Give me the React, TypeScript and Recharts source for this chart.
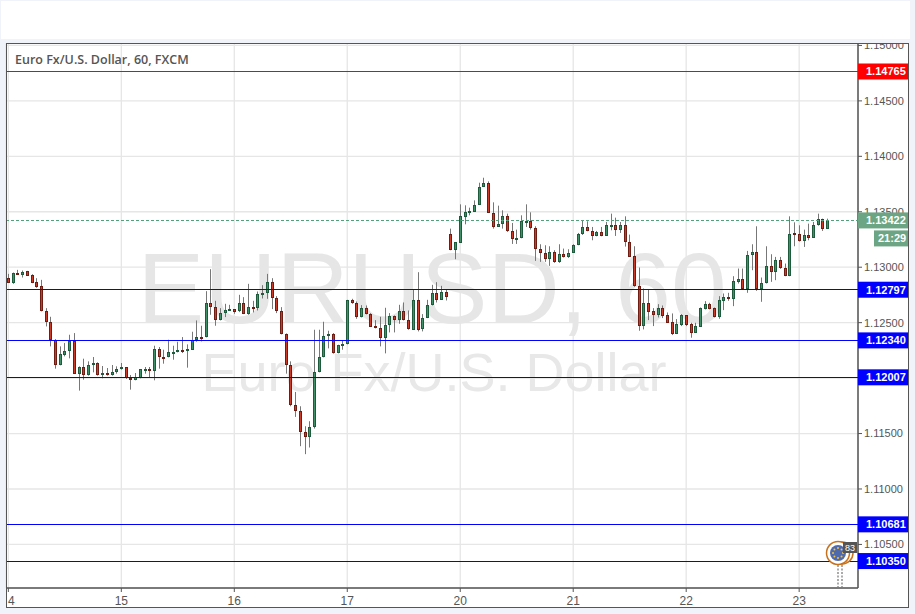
import { Bar, CartesianGrid, ComposedChart, ReferenceLine, XAxis, YAxis } from "recharts";

// hourly slots, 24 per day, the last few are empty space right of the last candle
const SLOT_COUNT = 181;
const dayTicks = [0, 24, 48, 72, 96, 120, 144, 168];
const dayLabels = ["4", "15", "16", "17", "20", "21", "22", "23"];
const priceTicks = [1.105, 1.11, 1.115, 1.12, 1.125, 1.13, 1.135, 1.14, 1.145, 1.15];
const priceDomain = [1.10107, 1.15022];

const opens = [
  1.12901, 1.12862, 1.12949, 1.12931, 1.12964, 1.12928, 1.12865, 1.12829, 1.12604, 1.12505,
  1.12346, 1.12115, 1.12211, 1.12241, 1.12337, 1.1204, 1.121, 1.12031, 1.12115, 1.12136,
  1.12034, 1.12046, 1.12025, 1.12052, 1.12079, 1.121, 1.12004, 1.1198, 1.12004, 1.12079,
  1.12082, 1.12061, 1.12265, 1.1219, 1.12187, 1.12232, 1.12232, 1.12256, 1.1225, 1.12256,
  1.1234, 1.1237, 1.12367, 1.12676, 1.1264, 1.1252, 1.12583, 1.12607, 1.12622, 1.12601,
  1.12676, 1.12577, 1.1264, 1.12628, 1.12754, 1.12766, 1.12865, 1.12721, 1.12604, 1.12397,
  1.12118, 1.11758, 1.11704, 1.11515, 1.11467, 1.11557, 1.12052, 1.12187, 1.12376, 1.12397,
  1.12223, 1.12295, 1.12304, 1.12703, 1.12676, 1.12547, 1.12631, 1.1258, 1.12469, 1.12451,
  1.12358, 1.12475, 1.12559, 1.1252, 1.12604, 1.12523, 1.12436, 1.12703, 1.12439, 1.12541,
  1.12655, 1.12766, 1.12706, 1.12775, 1.13303, 1.13156, 1.13219, 1.13453, 1.13498, 1.13498,
  1.13561, 1.13723, 1.13762, 1.13492, 1.13363, 1.1339, 1.13465, 1.1333, 1.13255, 1.13261,
  1.13408, 1.13417, 1.13357, 1.13168, 1.13132, 1.13075, 1.13141, 1.13048, 1.13123, 1.13093,
  1.13129, 1.13204, 1.133, 1.13366, 1.1333, 1.13282, 1.13321, 1.13282, 1.13381, 1.13384,
  1.13336, 1.13384, 1.13231, 1.13099, 1.12835, 1.12469, 1.12673, 1.12601, 1.12571, 1.12631,
  1.12565, 1.12502, 1.12397, 1.12478, 1.12565, 1.12484, 1.12409, 1.12463, 1.12625, 1.12667,
  1.12628, 1.12553, 1.12697, 1.12727, 1.12715, 1.12868, 1.12898, 1.12802, 1.13111, 1.13141,
  1.12802, 1.12859, 1.13015, 1.12958, 1.13069, 1.12997, 1.12919, 1.13306, 1.13303, 1.13237,
  1.13294, 1.13264, 1.13381, 1.13438, 1.13345,
];

const highs = [
  1.1294, 1.12952, 1.12976, 1.1297, 1.12967, 1.12937, 1.12901, 1.12886, 1.12631, 1.12553,
  1.12352, 1.12286, 1.12316, 1.12391, 1.12406, 1.12106, 1.12175, 1.12151, 1.1219, 1.12142,
  1.12109, 1.12091, 1.12118, 1.12106, 1.12136, 1.121, 1.12028, 1.12046, 1.12082, 1.121,
  1.121, 1.12292, 1.1228, 1.12256, 1.12346, 1.12292, 1.12328, 1.1237, 1.12304, 1.12418,
  1.1252, 1.12472, 1.12784, 1.12982, 1.12697, 1.12631, 1.1267, 1.12661, 1.12622, 1.12751,
  1.1273, 1.1285, 1.12697, 1.12781, 1.12838, 1.1294, 1.12901, 1.12739, 1.1264, 1.12403,
  1.12151, 1.11875, 1.11746, 1.11566, 1.11611, 1.12436, 1.12436, 1.12508, 1.12427, 1.12406,
  1.12301, 1.1234, 1.12706, 1.12715, 1.12691, 1.12658, 1.12655, 1.12586, 1.12523, 1.12553,
  1.12634, 1.12586, 1.12565, 1.12661, 1.12682, 1.1261, 1.12802, 1.12955, 1.12577, 1.12706,
  1.12841, 1.12865, 1.12832, 1.12796, 1.13348, 1.13225, 1.13567, 1.13558, 1.13537, 1.13603,
  1.13762, 1.13807, 1.13774, 1.13585, 1.13555, 1.13513, 1.13483, 1.13399, 1.13339, 1.13468,
  1.13567, 1.13495, 1.13369, 1.13207, 1.13198, 1.13189, 1.13153, 1.13207, 1.13168, 1.13162,
  1.13207, 1.13309, 1.13423, 1.13414, 1.13363, 1.13327, 1.13363, 1.13408, 1.13483, 1.13447,
  1.13408, 1.13459, 1.13294, 1.13189, 1.12997, 1.12808, 1.12799, 1.12631, 1.12667, 1.12655,
  1.12592, 1.12583, 1.12532, 1.12577, 1.12568, 1.12499, 1.12499, 1.12637, 1.12694, 1.12679,
  1.12637, 1.12739, 1.12763, 1.12769, 1.12919, 1.12988, 1.12988, 1.13147, 1.13207, 1.13369,
  1.12907, 1.13189, 1.13117, 1.13093, 1.13093, 1.13033, 1.13459, 1.13405, 1.13378, 1.13339,
  1.13393, 1.13408, 1.13483, 1.13438, 1.13438,
];

const lows = [
  1.12862, 1.1285, 1.12934, 1.12907, 1.12922, 1.12856, 1.12814, 1.12601, 1.12466, 1.12286,
  1.12085, 1.12115, 1.12196, 1.12178, 1.12037, 1.11887, 1.11986, 1.12022, 1.12052, 1.12022,
  1.11998, 1.12022, 1.12022, 1.1204, 1.12076, 1.11992, 1.11896, 1.1198, 1.11998, 1.1204,
  1.12004, 1.1198, 1.12085, 1.1213, 1.12187, 1.12166, 1.12232, 1.12226, 1.12094, 1.12256,
  1.12328, 1.12331, 1.12367, 1.12571, 1.12472, 1.1252, 1.1255, 1.12607, 1.1258, 1.12595,
  1.12577, 1.12571, 1.12592, 1.1261, 1.12718, 1.12715, 1.12622, 1.12586, 1.12394, 1.1204,
  1.11746, 1.1165, 1.11386, 1.11314, 1.11374, 1.11545, 1.12052, 1.12187, 1.12268, 1.1222,
  1.12223, 1.12256, 1.12304, 1.1267, 1.12535, 1.12547, 1.12574, 1.12463, 1.12448, 1.12286,
  1.12223, 1.12412, 1.12412, 1.1249, 1.1252, 1.12436, 1.12436, 1.12421, 1.12421, 1.12541,
  1.12655, 1.12682, 1.12706, 1.127, 1.13153, 1.13072, 1.13219, 1.13387, 1.13468, 1.13498,
  1.13561, 1.13723, 1.13492, 1.13348, 1.13363, 1.13348, 1.13318, 1.1321, 1.1321, 1.13261,
  1.13363, 1.13339, 1.13057, 1.13048, 1.13048, 1.13012, 1.13039, 1.13039, 1.13087, 1.13084,
  1.13129, 1.13198, 1.13291, 1.13324, 1.13243, 1.13279, 1.13279, 1.13282, 1.13333, 1.13282,
  1.13309, 1.13186, 1.13093, 1.12823, 1.12427, 1.12439, 1.12523, 1.12469, 1.12547, 1.12541,
  1.12499, 1.12388, 1.12397, 1.12469, 1.12469, 1.12364, 1.12409, 1.12463, 1.12619, 1.12619,
  1.12547, 1.12535, 1.12613, 1.12697, 1.12649, 1.12853, 1.12799, 1.12769, 1.12973, 1.12787,
  1.12688, 1.12853, 1.12868, 1.12883, 1.12985, 1.12919, 1.12919, 1.13189, 1.13231, 1.13183,
  1.13243, 1.13264, 1.13375, 1.13327, 1.13345,
];

const closes = [
  1.12862, 1.12946, 1.12934, 1.12961, 1.12925, 1.12862, 1.12826, 1.12601, 1.12502, 1.1234,
  1.12115, 1.12217, 1.12244, 1.12337, 1.1204, 1.121, 1.12031, 1.12118, 1.12136, 1.12031,
  1.12046, 1.12025, 1.12055, 1.12082, 1.121, 1.11998, 1.1198, 1.1201, 1.12082, 1.12082,
  1.12061, 1.12265, 1.12187, 1.12187, 1.12238, 1.12238, 1.12256, 1.1225, 1.12265, 1.12343,
  1.1237, 1.12367, 1.12676, 1.12637, 1.1252, 1.12586, 1.12613, 1.12622, 1.12598, 1.12676,
  1.12577, 1.1264, 1.12625, 1.12757, 1.12766, 1.12865, 1.12718, 1.12601, 1.12394, 1.12115,
  1.11755, 1.11701, 1.11512, 1.11467, 1.1156, 1.12055, 1.1219, 1.12379, 1.12397, 1.12226,
  1.12298, 1.12307, 1.12703, 1.12673, 1.12547, 1.12631, 1.12574, 1.12463, 1.12448, 1.12358,
  1.12478, 1.12559, 1.1252, 1.12607, 1.1252, 1.12439, 1.12703, 1.12436, 1.12541, 1.12658,
  1.12766, 1.12706, 1.12775, 1.12727, 1.13156, 1.13225, 1.13459, 1.13501, 1.13504, 1.13564,
  1.13726, 1.13762, 1.13492, 1.13363, 1.13393, 1.13465, 1.13327, 1.13255, 1.13267, 1.13414,
  1.13417, 1.13357, 1.13165, 1.13129, 1.13072, 1.13141, 1.13048, 1.13123, 1.13093, 1.13132,
  1.13204, 1.13303, 1.13366, 1.13327, 1.13282, 1.13321, 1.13282, 1.13384, 1.13384, 1.13336,
  1.13384, 1.13228, 1.13093, 1.12829, 1.12469, 1.12673, 1.12598, 1.12568, 1.12631, 1.12562,
  1.12499, 1.12397, 1.12484, 1.12568, 1.12481, 1.12409, 1.12466, 1.12628, 1.12667, 1.12625,
  1.12553, 1.127, 1.12727, 1.12712, 1.12874, 1.12898, 1.12805, 1.13114, 1.13141, 1.12802,
  1.12862, 1.13015, 1.12958, 1.13069, 1.12991, 1.12922, 1.13303, 1.13297, 1.13237, 1.13294,
  1.13264, 1.13384, 1.13438, 1.13345, 1.13422,
];

const levelValues = [1.14765, 1.12797, 1.1234, 1.12007, 1.10681, 1.1035];
const levelColors = ["#ff0000", "#0000ff", "#0000ff", "#0000ff", "#0000ff", "#0000ff"];
const lastPrice = 1.13422;
const countdown = "21:29";

const chartData = Array.from({ length: SLOT_COUNT }, (_, i) =>
  i < opens.length
    ? { slot: i, open: opens[i], high: highs[i], low: lows[i], close: closes[i] }
    : { slot: i }
);

const LAST_GREEN = "#6ba583";
const AXIS_COLOR = "#555";

function Candle(props: any) {
  const { x, y, width, height, payload } = props;
  if (payload.open === undefined) return null;
  const { open, high, low, close } = payload;
  const up = close >= open;
  // bar covers low..high, so the body comes from the same px per price
  const perPrice = height / (high - low);
  const bodyTop = y + (high - Math.max(open, close)) * perPrice;
  const bodyBottom = y + (high - Math.min(open, close)) * perPrice;
  const cx = Math.floor(x + width / 2) + 0.5;
  const top = Math.round(bodyTop) + 0.5;
  const bottom = Math.max(Math.round(bodyBottom) - 0.5, top + 1);
  return (
    <g>
      <line x1={cx} x2={cx} y1={y} y2={y + height} stroke="#777" strokeWidth={1} />
      <rect
        x={cx - 1}
        y={top}
        width={2}
        height={bottom - top}
        fill={up ? "#3f9268" : "#cc3a28"}
        stroke={up ? "#1e5a3c" : "#701c12"}
        strokeWidth={1}
      />
    </g>
  );
}

function PriceTag({ viewBox, value, color }: any) {
  const left = viewBox.x + viewBox.width;
  return (
    <g>
      <rect x={left} y={viewBox.y - 8} width={50} height={16} fill={color} />
      <text
        x={left + 8}
        y={viewBox.y + 4}
        fill="#fff"
        fontSize={11}
        fontWeight={700}
        fontFamily="Liberation Sans"
      >
        {value.toFixed(5)}
      </text>
    </g>
  );
}

function LastTag(props: any) {
  const left = props.viewBox.x + props.viewBox.width;
  const y = props.viewBox.y;
  return (
    <g>
      <PriceTag {...props} value={lastPrice} color={LAST_GREEN} />
      <rect x={left + 16} y={y + 10} width={34} height={16} fill={LAST_GREEN} />
      <text x={left + 20} y={y + 22} fill="#fff" fontSize={11} fontWeight={700} fontFamily="Liberation Sans">
        {countdown}
      </text>
    </g>
  );
}

function DayTick({ x, y, payload }: any) {
  const label = dayLabels[dayTicks.indexOf(payload.value)];
  return (
    <text
      x={label.length === 1 ? x + 3 : x}
      y={y + 11}
      textAnchor="middle"
      fill="#555"
      fontSize={12}
      fontFamily="Liberation Sans"
    >
      {label}
    </text>
  );
}

function CalendarMark() {
  const stars = [0, 1, 2, 3, 4, 5, 6, 7];
  return (
    <svg width={915} height={614} style={{ position: "absolute", left: 0, top: 0, pointerEvents: "none" }}>
      <line x1={838} x2={838} y1={565} y2={587} stroke="#aaa" strokeWidth={2} strokeDasharray="2 1.5" />
      <line x1={842} x2={842} y1={565} y2={587} stroke="#aaa" strokeWidth={2} strokeDasharray="2 1.5" />
      <circle cx={842} cy={553} r={11} fill="#fff" stroke="#c8701a" strokeWidth={1.5} />
      <circle cx={838} cy={553} r={11.5} fill="#fff" stroke="#c8701a" strokeWidth={1.5} />
      <circle cx={838} cy={553} r={8} fill="#4f69ad" />
      {stars.map((s) => (
        <circle
          key={s}
          cx={838 + 5 * Math.cos((s * Math.PI) / 4)}
          cy={553 + 5 * Math.sin((s * Math.PI) / 4)}
          r={1}
          fill="#f2c23e"
        />
      ))}
      <rect x={843} y={542} width={14} height={11} fill="#555" />
      <text x={850} y={551} textAnchor="middle" fill="#fff" fontSize={9} fontFamily="Liberation Sans">
        83
      </text>
    </svg>
  );
}

export default function App() {
  return (
    <div style={{ position: "absolute", left: 0, top: 0, width: 915, height: 614, background: "#f0f3fa", overflow: "hidden" }}>
      <div style={{ position: "absolute", left: 1, top: 1, width: 909, height: 38, background: "#fff" }} />
      <div style={{ position: "absolute", left: 6, top: 43, width: 902, height: 564, background: "#fff" }} />

      <div style={{ position: "absolute", left: 0, width: 864, top: 231, textAlign: "center", font: "100px 'Liberation Sans'", color: "#e6e6e6", whiteSpace: "nowrap" }}>
        EURUSD, 60
      </div>
      <div style={{ position: "absolute", left: 0, width: 868, top: 341, textAlign: "center", font: "54px 'Liberation Sans'", color: "#e8e8e8", whiteSpace: "nowrap" }}>
        Euro Fx/U.S. Dollar
      </div>

      <div style={{ position: "absolute", left: 0, top: 0 }}>
        <ComposedChart
          width={915}
          height={614}
          data={chartData}
          margin={{ top: 43, right: 7, bottom: 7, left: 6 }}
          barCategoryGap={0}
        >
          <CartesianGrid stroke="#e6e6e6" strokeWidth={1.3} />
          <XAxis
            dataKey="slot"
            ticks={dayTicks}
            interval={0}
            height={19}
            tick={<DayTick />}
            tickSize={4}
            stroke={AXIS_COLOR}
            tickLine={{ stroke: AXIS_COLOR }}
            axisLine={{ stroke: AXIS_COLOR, strokeWidth: 1.5 }}
          />
          <YAxis
            orientation="right"
            type="number"
            width={50}
            domain={priceDomain}
            allowDataOverflow
            ticks={priceTicks}
            interval={0}
            tickSize={4}
            tickFormatter={(v: number) => v.toFixed(5)}
            tick={{ fill: "#555", fontSize: 11, fontFamily: "Liberation Sans" }}
            tickLine={{ stroke: AXIS_COLOR }}
            axisLine={{ stroke: AXIS_COLOR, strokeWidth: 1.5 }}
          />
          <Bar
            dataKey={(d: any) => (d.open === undefined ? null : [d.low, d.high])}
            shape={<Candle />}
            isAnimationActive={false}
          />
        </ComposedChart>
      </div>

      {/* second chart on top so the level tags cover the axis labels */}
      <div style={{ position: "absolute", left: 0, top: 0 }}>
        <ComposedChart
          width={915}
          height={614}
          data={chartData}
          margin={{ top: 43, right: 57, bottom: 26, left: 6 }}
        >
          <XAxis dataKey="slot" hide />
          <YAxis type="number" hide domain={priceDomain} allowDataOverflow />
          <ReferenceLine
            y={lastPrice}
            stroke="#53a07a"
            strokeDasharray="3 2"
            shapeRendering="crispEdges"
            label={(p: any) => <LastTag {...p} />}
          />
          {levelValues.map((v, i) => (
            <ReferenceLine
              key={v}
              y={v}
              stroke={levelColors[i]}
              strokeWidth={1}
              shapeRendering="crispEdges"
              label={(p: any) => <PriceTag {...p} value={v} color={levelColors[i]} />}
            />
          ))}
        </ComposedChart>
      </div>

      <CalendarMark />

      <div style={{ position: "absolute", left: 15, top: 51, font: "600 12.5px 'Open Sans'", color: "#555", whiteSpace: "nowrap" }}>
        Euro Fx/U.S. Dollar, 60, FXCM
      </div>

      {/* cuts the top of the 1.15000 label like the pane does, then the pane frame */}
      <div style={{ position: "absolute", left: 0, top: 39, width: 915, height: 4, background: "#f0f3fa" }} />
      <div style={{ position: "absolute", left: 6, top: 43, width: 901, height: 563, border: "1.5px solid #555", boxSizing: "content-box", borderRightWidth: 1, borderBottomWidth: 1, pointerEvents: "none" }} />
    </div>
  );
}
